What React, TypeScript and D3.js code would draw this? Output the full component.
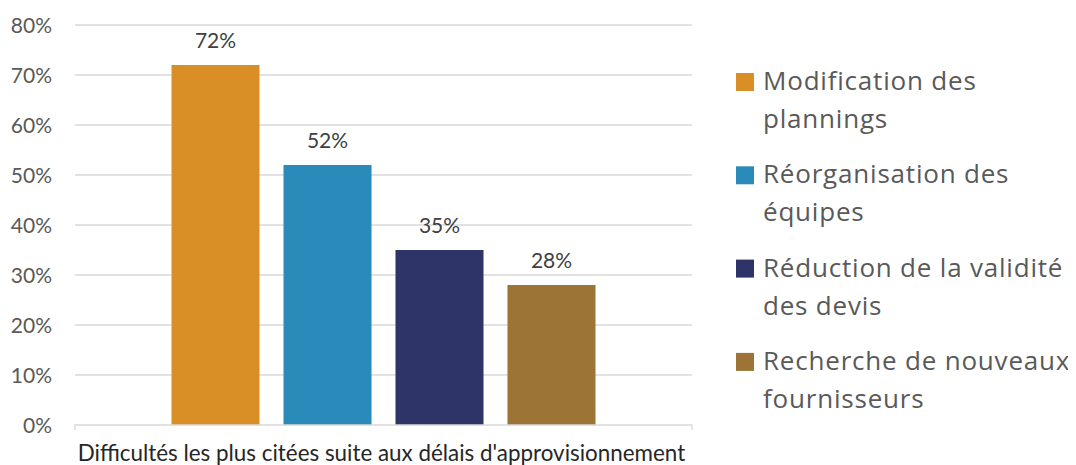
import { useEffect, useRef } from "react";
import * as d3 from "d3";

const category = "Difficultés les plus citées suite aux délais d'approvisionnement";
const series = [
  "Modification des plannings",
  "Réorganisation des équipes",
  "Réduction de la validité des devis",
  "Recherche de nouveaux fournisseurs",
];
const values = [72, 52, 35, 28];
const colors = ["#D98F25", "#2A8BBB", "#2F3468", "#9C7436"];
const legendLines = [
  ["Modification des", "plannings"],
  ["Réorganisation des", "équipes"],
  ["Réduction de la validité", "des devis"],
  ["Recherche de nouveaux", "fournisseurs"],
];
const yTicks = [0, 10, 20, 30, 40, 50, 60, 70, 80];

const FONT = "Lato, 'Open Sans', sans-serif";
const LEGEND_FONT = "'Open Sans', Lato, sans-serif";

const App: React.FC = () => {
  const svgRef = useRef<SVGSVGElement | null>(null);

  useEffect(() => {
    if (!svgRef.current) return;
    const svg = d3.select(svgRef.current);
    svg.selectAll("*").remove();

    const plot = { left: 75, right: 692, top: 25, bottom: 425 };

    const y = d3.scaleLinear().domain([0, 80]).range([plot.bottom, plot.top]);

    const x0 = d3
      .scaleBand()
      .domain([category])
      .range([plot.left, plot.right])
      .paddingOuter(0.2276);

    const x1 = d3
      .scaleBand()
      .domain(series)
      .range([x0(category) || 0, (x0(category) || 0) + x0.bandwidth()])
      .paddingInner(0.214)
      .paddingOuter(0);

    // gridlines
    svg
      .append("g")
      .selectAll("line")
      .data(yTicks.filter((t) => t > 0))
      .enter()
      .append("line")
      .attr("x1", plot.left)
      .attr("x2", plot.right)
      .attr("y1", (d) => y(d))
      .attr("y2", (d) => y(d))
      .attr("stroke", "#d9d9d9")
      .attr("stroke-width", 1.3);

    // y labels
    svg
      .append("g")
      .selectAll("text")
      .data(yTicks)
      .enter()
      .append("text")
      .attr("x", 52)
      .attr("y", (d) => y(d))
      .attr("dy", "0.36em")
      .attr("text-anchor", "end")
      .attr("font-family", FONT)
      .attr("font-size", 21)
      .attr("fill", "#595959")
      .text((d) => `${d}%`);

    // bars
    svg
      .append("g")
      .selectAll("rect")
      .data(series)
      .enter()
      .append("rect")
      .attr("x", (d) => x1(d) || 0)
      .attr("width", x1.bandwidth())
      .attr("y", (_, i) => y(values[i]))
      .attr("height", (_, i) => plot.bottom - y(values[i]))
      .attr("fill", (_, i) => colors[i]);

    // data labels
    svg
      .append("g")
      .selectAll("text")
      .data(series)
      .enter()
      .append("text")
      .attr("x", (d) => (x1(d) || 0) + x1.bandwidth() / 2)
      .attr("y", (_, i) => y(values[i]) - 17)
      .attr("text-anchor", "middle")
      .attr("font-family", FONT)
      .attr("font-size", 21)
      .attr("fill", "#404040")
      .text((_, i) => `${values[i]}%`);

    // x axis
    svg
      .append("path")
      .attr(
        "d",
        `M${plot.left},${plot.bottom + 5}V${plot.bottom}H${plot.right}V${plot.bottom + 5}`
      )
      .attr("fill", "none")
      .attr("stroke", "#d9d9d9")
      .attr("stroke-width", 1.3);

    svg
      .append("text")
      .attr("x", (plot.left + plot.right) / 2 - 2)
      .attr("y", 461)
      .attr("text-anchor", "middle")
      .attr("font-family", FONT)
      .attr("font-size", 22.4)
      .attr("fill", "#262626")
      .text(category);

    // legend
    const legend = svg
      .append("g")
      .selectAll("g")
      .data(series)
      .enter()
      .append("g")
      .attr("transform", (_, i) => `translate(736,${90 + i * 93.3})`);

    legend
      .append("rect")
      .attr("x", 0)
      .attr("y", -17)
      .attr("width", 18)
      .attr("height", 18)
      .attr("fill", (_, i) => colors[i]);

    legend
      .append("text")
      .attr("font-family", LEGEND_FONT)
      .attr("font-size", 26)
      .attr("letter-spacing", 0.8)
      .attr("fill", "#595959")
      .selectAll("tspan")
      .data((_, i) => legendLines[i])
      .enter()
      .append("tspan")
      .attr("x", 27)
      .attr("y", (_, j) => j * 38)
      .text((d) => d);
  }, []);

  return (
    <div style={{ width: 1076, height: 465 }}>
      <svg ref={svgRef} width={1076} height={465} style={{ display: "block", marginTop: -8, marginLeft: -8 }} />
    </div>
  );
};

export default App;
